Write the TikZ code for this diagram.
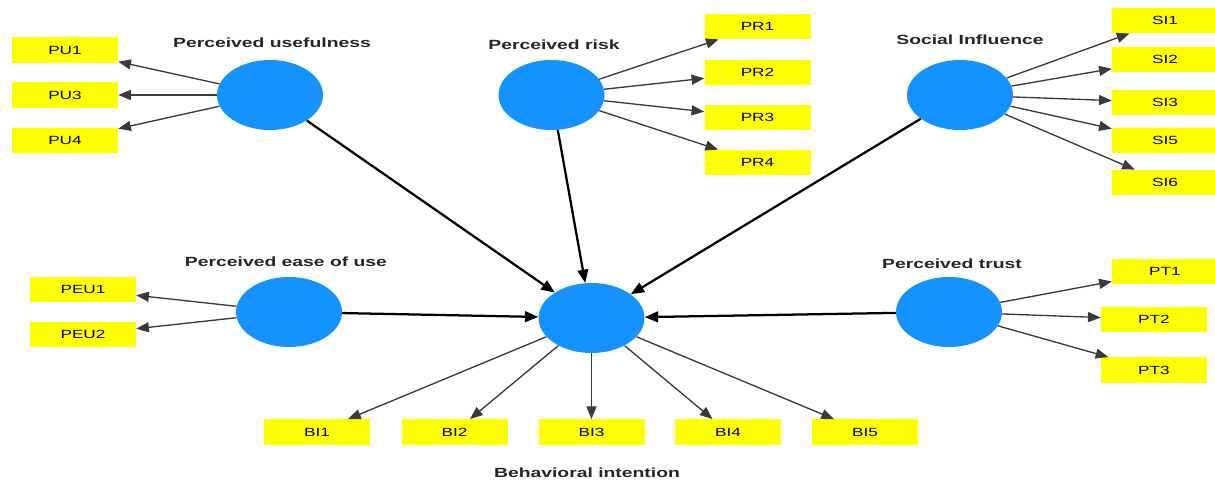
\documentclass[tikz,border=0pt]{standalone}
\usepackage{fontspec}
\setmainfont{Liberation Sans}
\newfontfamily\widefont[FakeStretch=1.45]{Liberation Sans}
\usetikzlibrary{arrows.meta,shapes.geometric,positioning}
\definecolor{lvblue}{HTML}{1492FF}
\definecolor{indyellow}{HTML}{FFFF00}
\definecolor{loadgray}{HTML}{3A3A3A}
\tikzset{
  % latente variabler: blaa ellipse, navnet staar over den
  lv/.style={ellipse, fill=lvblue, minimum width=79.5pt, minimum height=52.5pt,
    inner sep=0pt},
  lvname/.style={font=\widefont\bfseries\fontsize{10}{12}\selectfont,
    inner sep=0pt, text=black!85},
  % indikatorer: gule kasser
  ind/.style={rectangle, fill=indyellow, minimum width=79.5pt, minimum height=19pt,
    inner sep=0pt, font=\widefont\fontsize{8.9}{10}\selectfont},
  load/.style={draw=loadgray, line width=1pt, -{Triangle[length=9.5pt,width=7.5pt]}},
  struct/.style={draw=black, line width=1.7pt, -{Triangle[length=10pt,width=8pt]}},
}
\newcommand{\lv}[4]{%
  \node[lv] (#1) at (#2) {};
  \node[lvname] (#1-name) at (#3) {#4};}
\newcommand{\ind}[3]{\node[ind] (#1) at (#2) {#3};}
\newcommand{\load}[2]{\draw[load] (#1) -- (#2);}

\begin{document}
\begin{tikzpicture}[x=0.75pt,y=-0.75pt]
\useasboundingbox (0,0) rectangle (1215,479);

% ----- latente variabler -----
\lv{pu}{270,95}{272,43}{Perceived usefulness}
\lv{pr}{551.5,95}{554,45}{Perceived risk}
\lv{si}{960,95}{970,40}{Social Influence}
\lv{peu}{289,312}{286,262}{Perceived ease of use}
\lv{pt}{949,312}{952,264}{Perceived trust}
\lv{bi}{591.5,318}{587,473}{Behavioral intention}

% ----- indikatorer -----
\ind{pu1}{65,50}{PU1}
\ind{pu3}{65,95}{PU3}
\ind{pu4}{65,140.5}{PU4}

\ind{pr1}{757.5,26.5}{PR1}
\ind{pr2}{757.5,72.5}{PR2}
\ind{pr3}{757.5,117.5}{PR3}
\ind{pr4}{757.5,162.5}{PR4}

\ind{si1}{1165,20.5}{SI1}
\ind{si2}{1165,59.5}{SI2}
\ind{si3}{1165,102.5}{SI3}
\ind{si5}{1165,140.5}{SI5}
\ind{si6}{1165,182.5}{SI6}

\ind{peu1}{83,289.5}{PEU1}
\ind{peu2}{83,334.5}{PEU2}

\ind{pt1}{1165,271.5}{PT1}
\ind{pt2}{1154,319.5}{PT2}
\ind{pt3}{1154,370}{PT3}

\ind{bi1}{317,432}{BI1}
\ind{bi2}{454.5,432}{BI2}
\ind{bi3}{591.5,432}{BI3}
\ind{bi4}{728,432}{BI4}
\ind{bi5}{865,432}{BI5}

% ----- ladninger -----
\load{pu}{pu1}
\load{pu}{pu3}
\load{pu}{pu4}
\load{pr}{pr1}
\load{pr}{pr2}
\load{pr}{pr3}
\load{pr}{pr4}
\load{si}{si1}
\load{si}{si2}
\load{si}{si3}
\load{si}{si5}
\load{si}{si6}
\load{peu}{peu1}
\load{peu}{peu2}
\load{pt}{pt1}
\load{pt}{pt2}
\load{pt}{pt3}
\load{bi}{bi1}
\load{bi}{bi2}
\load{bi}{bi3}
\load{bi}{bi4}
\load{bi}{bi5}

% ----- strukturmodel -----
\draw[struct] (pu) -- (bi);
\draw[struct] (pr) -- (bi);
\draw[struct] (si) -- (bi);
\draw[struct] (peu) -- (bi);
\draw[struct] (pt) -- (bi);

\end{tikzpicture}
\end{document}
